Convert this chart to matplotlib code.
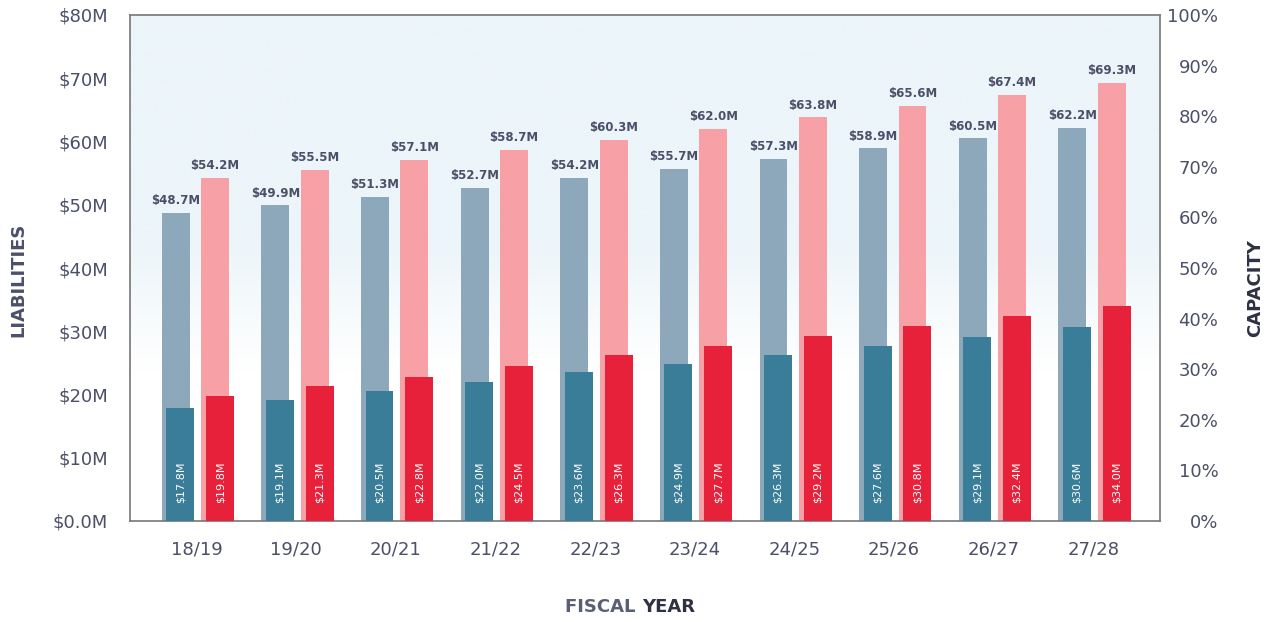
import numpy as np
import matplotlib.pyplot as plt
from matplotlib.colors import LinearSegmentedColormap

# Data ($M)
years = ["18/19", "19/20", "20/21", "21/22", "22/23", "23/24", "24/25", "25/26", "26/27", "27/28"]
blue_total = [48.7, 49.9, 51.3, 52.7, 54.2, 55.7, 57.3, 58.9, 60.5, 62.2]
blue_part = [17.8, 19.1, 20.5, 22.0, 23.6, 24.9, 26.3, 27.6, 29.1, 30.6]
red_total = [54.2, 55.5, 57.1, 58.7, 60.3, 62.0, 63.8, 65.6, 67.4, 69.3]
red_part = [19.8, 21.3, 22.8, 24.5, 26.3, 27.7, 29.2, 30.8, 32.4, 34.0]

c_light_blue = "#8ea8bb"
c_dark_blue = "#3a7d98"
c_pink = "#f7a1a6"
c_red = "#e8213a"
c_text = "#4b4f68"

fig = plt.figure(figsize=(12.73, 6.22), dpi=100)
ax = fig.add_axes([130 / 1273, 1 - 521 / 622, 1030 / 1273, 506 / 622])

x = np.arange(len(years))
w = 0.28

# soft blue background fading to white towards the bottom
cmap = LinearSegmentedColormap.from_list("bg", ["#ffffff", "#ecf5f9"])
grad = np.linspace(0, 1, 256).reshape(-1, 1)
grad = np.clip((grad - 0.3) / 0.25, 0, 1)
ax.imshow(grad, aspect="auto", cmap=cmap, origin="lower",
          extent=[-0.67, 9.67, 0, 80], zorder=0)

ax.bar(x - 0.21, blue_total, w, color=c_light_blue, zorder=2)
ax.bar(x - 0.165, blue_part, w, color=c_dark_blue, zorder=3)
ax.bar(x + 0.185, red_total, w, color=c_pink, zorder=2)
ax.bar(x + 0.235, red_part, w, color=c_red, zorder=3)

for i in range(len(years)):
    ax.text(x[i] - 0.21, blue_total[i] + 0.9, f"${blue_total[i]:.1f}M", ha="center", va="bottom",
            fontsize=8.5, fontweight="bold", color=c_text, zorder=4)
    ax.text(x[i] + 0.185, red_total[i] + 0.9, f"${red_total[i]:.1f}M", ha="center", va="bottom",
            fontsize=8.5, fontweight="bold", color=c_text, zorder=4)
    ax.text(x[i] - 0.165, 2.8, f"${blue_part[i]:.1f}M", ha="center", va="bottom", rotation=90,
            fontsize=8, color="white", zorder=4)
    ax.text(x[i] + 0.235, 2.8, f"${red_part[i]:.1f}M", ha="center", va="bottom", rotation=90,
            fontsize=8, color="white", zorder=4)

ax.set_xlim(-0.67, 9.67)
ax.set_ylim(0, 80)
ax.set_xticks(x)
ax.set_xticklabels(years)
ax.set_yticks(range(0, 81, 10))
ax.set_yticklabels(["$0.0M"] + [f"${v}M" for v in range(10, 81, 10)])
ax.tick_params(axis="both", length=0, labelsize=13, colors=c_text)
ax.tick_params(axis="y", pad=16)
ax.tick_params(axis="x", pad=14)

for s in ax.spines.values():
    s.set_color("#777777")
    s.set_linewidth(1.2)

ax2 = ax.twinx()
ax2.set_ylim(0, 100)
ax2.set_yticks(range(0, 101, 10))
ax2.set_yticklabels([f"{v}%" for v in range(0, 101, 10)], ha="right")
ax2.tick_params(axis="y", length=0, labelsize=13, colors=c_text, pad=42)
for s in ax2.spines.values():
    s.set_visible(False)

fig.text(18 / 1273, 1 - 280 / 622, "LIABILITIES", rotation=90, ha="center", va="center",
         fontsize=13, fontweight="bold", color=c_text)
fig.text(1255 / 1273, 1 - 288 / 622, "CAPACITY", rotation=90, ha="center", va="center",
         fontsize=13, fontweight="bold", color="#2e3142")
fig.text(642 / 1273, 1 - 607 / 622, "FISCAL ", ha="right", va="center",
         fontsize=13, fontweight="bold", color="#5b5f75")
fig.text(642 / 1273, 1 - 607 / 622, "YEAR", ha="left", va="center",
         fontsize=13, fontweight="bold", color="#2e3142")

fig.savefig("out.png", dpi=100)
